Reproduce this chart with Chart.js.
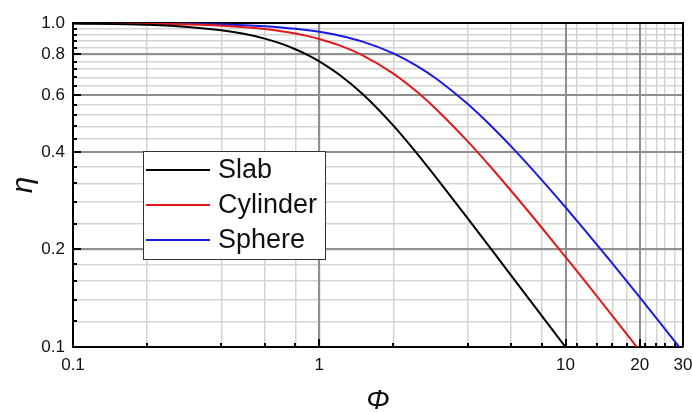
<!DOCTYPE html>
<html>
<head>
<meta charset="utf-8">
<script src="https://cdn.jsdelivr.net/npm/chart.js@4.4.0/dist/chart.umd.min.js"></script>
<style>
  html, body { margin: 0; padding: 0; background: #fff; }
  canvas { display: block; }
</style>
</head>
<body>
<canvas id="grafico" width="692" height="412"></canvas>
<script>
// valores (x = modulo de Thiele, y = fator de efetividade)
var phi = [0.1, 0.2, 0.3, 0.4, 0.5, 0.6, 0.7, 0.8, 0.9, 1, 1.2, 1.5, 2, 2.5, 3, 4, 5, 6, 8, 10, 12, 15, 20, 25, 30];
var etaSlab = [0.9967, 0.9869, 0.9710, 0.9499, 0.9242, 0.8951, 0.8634, 0.8300, 0.7959, 0.7616, 0.6947, 0.6034, 0.4820, 0.3946, 0.3317, 0.2498, 0.2000, 0.1667, 0.1250, 0.1000, 0.0833, 0.0667, 0.0500, 0.0400, 0.0333];
var etaCilindro = [0.9988, 0.9950, 0.9889, 0.9805, 0.9700, 0.9575, 0.9434, 0.9277, 0.9108, 0.8928, 0.8544, 0.7948, 0.6978, 0.6120, 0.5400, 0.4318, 0.3574, 0.3041, 0.2338, 0.1897, 0.1596, 0.1288, 0.0975, 0.0784, 0.0652];
var etaEsfera = [0.9993, 0.9973, 0.9941, 0.9895, 0.9837, 0.9768, 0.9688, 0.9598, 0.9499, 0.9391, 0.9155, 0.8762, 0.8060, 0.7363, 0.6716, 0.5630, 0.4801, 0.4167, 0.3281, 0.2700, 0.2292, 0.1867, 0.1425, 0.1152, 0.0967];
var nomes = ['Slab', 'Cylinder', 'Sphere'];
var cores = ['#000000', '#e01a1a', '#1a1ae0'];

// ticks dos eixos (maiores com rotulo, o resto so grade)
var ticksX = [0.1, 0.2, 0.4, 0.6, 0.8, 1, 2, 4, 6, 8, 10, 11.1, 13.4, 15.5, 17.7, 20, 21.1, 23.4, 25.4, 27.9, 30];
var rotulosX = [0.1, 1, 10, 20, 30];
var gradeEscuraX = [1, 10, 20];
var ticksY = [0.1, 0.12, 0.14, 0.16, 0.18, 0.2, 0.24, 0.28, 0.32, 0.36, 0.4, 0.44, 0.48, 0.52, 0.56, 0.6, 0.64, 0.68, 0.72, 0.76, 0.8, 0.84, 0.88, 0.92, 0.96, 1.0];
var rotulosY = [0.1, 0.2, 0.4, 0.6, 0.8, 1.0];
var gradeEscuraY = [0.2, 0.4, 0.6, 0.8];

var fonte = '"Liberation Sans", Arial, sans-serif';
var cinzaEscuro = '#8f8f8f';
var cinzaClaro = '#d3d3d3';

function pontos(vetor) {
  return phi.map(function (p, i) { return { x: p, y: vetor[i] }; });
}

// grade escura por cima, moldura de cima/direita e ticks para dentro
var moldura = {
  id: 'moldura',
  beforeDatasetsDraw: function (chart) {
    var ctx = chart.ctx, a = chart.chartArea;
    var sx = chart.scales.x, sy = chart.scales.y;
    ctx.save();
    ctx.strokeStyle = cinzaEscuro;
    ctx.lineWidth = 2;
    gradeEscuraX.forEach(function (v) {
      var x = Math.round(sx.getPixelForValue(v));
      ctx.beginPath();
      ctx.moveTo(x, a.top);
      ctx.lineTo(x, a.bottom);
      ctx.stroke();
    });
    gradeEscuraY.forEach(function (v) {
      var y = Math.round(sy.getPixelForValue(v));
      ctx.beginPath();
      ctx.moveTo(a.left, y);
      ctx.lineTo(a.right, y);
      ctx.stroke();
    });

    ctx.strokeStyle = '#000';
    ctx.beginPath();
    ctx.moveTo(a.left, a.top);
    ctx.lineTo(a.right, a.top);
    ctx.lineTo(a.right, a.bottom);
    ctx.stroke();

    ticksY.forEach(function (v) {
      var y = Math.round(sy.getPixelForValue(v));
      var t = rotulosY.indexOf(v) >= 0 ? 8 : 4;
      ctx.beginPath();
      ctx.moveTo(a.left, y);
      ctx.lineTo(a.left + t, y);
      ctx.stroke();
    });
    ticksX.forEach(function (v) {
      var x = Math.round(sx.getPixelForValue(v));
      var t = rotulosX.indexOf(v) >= 0 ? 8 : 4;
      ctx.beginPath();
      ctx.moveTo(x, a.bottom);
      ctx.lineTo(x, a.bottom - t);
      ctx.stroke();
    });
    ctx.restore();
  },
  afterDraw: function (chart) {
    // legenda dentro da area do grafico
    var ctx = chart.ctx, a = chart.chartArea;
    var x0 = a.left + 70, y0 = a.top + 128, w = 182, h = 108;
    ctx.save();
    ctx.fillStyle = '#fff';
    ctx.fillRect(x0, y0, w, h);
    ctx.strokeStyle = '#333';
    ctx.lineWidth = 1;
    ctx.strokeRect(x0 + 0.5, y0 + 0.5, w, h);
    ctx.font = '27px ' + fonte;
    ctx.textBaseline = 'middle';
    chart.data.datasets.forEach(function (ds, i) {
      var y = y0 + 19 + i * 35;
      ctx.strokeStyle = ds.borderColor;
      ctx.lineWidth = 2;
      ctx.beginPath();
      ctx.moveTo(x0 + 3, y);
      ctx.lineTo(x0 + 67, y);
      ctx.stroke();
      ctx.fillStyle = '#111';
      ctx.fillText(ds.label, x0 + 75, y + 1);
    });
    ctx.restore();
  }
};

function montaGrafico() {
  var dados = [etaSlab, etaCilindro, etaEsfera];
  var datasets = dados.map(function (v, i) {
    return {
      label: nomes[i],
      data: pontos(v),
      borderColor: cores[i],
      backgroundColor: cores[i],
      borderWidth: 2,
      pointRadius: 0,
      cubicInterpolationMode: 'monotone'
    };
  });

  new Chart(document.getElementById('grafico'), {
    type: 'line',
    data: { datasets: datasets },
    options: {
      responsive: false,
      animation: false,
      layout: { padding: { top: 23, right: 9, left: 0, bottom: 0 } },
      plugins: {
        legend: { display: false },
        tooltip: { enabled: false }
      },
      scales: {
        x: {
          type: 'logarithmic',
          min: 0.1,
          max: 30,
          afterBuildTicks: function (scale) {
            scale.ticks = ticksX.map(function (v) { return { value: v }; });
          },
          afterFit: function (scale) {
            scale.height = 65;
            scale.paddingLeft = 0;
            scale.paddingRight = 0;
          },
          ticks: {
            autoSkip: false,
            maxRotation: 0,
            padding: 8,
            color: '#111',
            font: { family: fonte, size: 17 },
            callback: function (v) { return rotulosX.indexOf(v) >= 0 ? String(v) : ''; }
          },
          grid: { drawTicks: false, color: cinzaClaro, lineWidth: 1.5 },
          border: { color: '#000', width: 2 },
          title: {
            display: true,
            text: 'Φ',
            color: '#111',
            font: { family: fonte, size: 28, style: 'italic', lineHeight: 1 },
            padding: { top: 0, bottom: -3 }
          }
        },
        y: {
          type: 'logarithmic',
          min: 0.1,
          max: 1,
          afterBuildTicks: function (scale) {
            scale.ticks = ticksY.map(function (v) { return { value: v }; });
          },
          afterFit: function (scale) {
            scale.width = 73;
            scale.paddingTop = 0;
            scale.paddingBottom = 0;
          },
          ticks: {
            autoSkip: false,
            padding: 8,
            color: '#111',
            font: { family: fonte, size: 17 },
            callback: function (v) { return rotulosY.indexOf(v) >= 0 ? v.toFixed(1) : ''; }
          },
          grid: { drawTicks: false, color: cinzaClaro, lineWidth: 1.5 },
          border: { color: '#000', width: 2 },
          title: {
            display: true,
            text: 'η',
            color: '#111',
            font: { family: fonte, size: 30, style: 'italic', lineHeight: 1 },
            padding: { top: 9, bottom: 0 }
          }
        }
      }
    },
    plugins: [moldura]
  });
}

montaGrafico();
</script>
</body>
</html>
